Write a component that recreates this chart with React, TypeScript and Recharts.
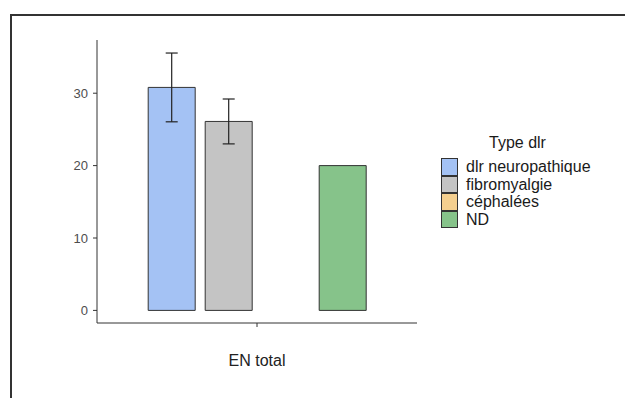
import { BarChart, Bar, XAxis, YAxis, ErrorBar } from 'recharts'

const categories = ['EN total']
const seriesNames = ['dlr neuropathique', 'fibromyalgie', 'céphalées', 'ND']
const seriesKeys = ['neuro', 'fibro', 'ceph', 'nd']
const seriesColors = ['#a4c2f4', '#c4c4c4', '#f4cf8f', '#86c38a']
const means = [30.8, 26.1, null, 20.0]
const errors = [4.75, 3.1, null, null]
const yTicks = [0, 10, 20, 30]

const data = categories.map((cat) => {
  const row: Record<string, any> = { cat }
  seriesKeys.forEach((k, i) => {
    row[k] = means[i]
    row[k + 'Err'] = errors[i]
  })
  return row
})

const font = '"Liberation Sans", Arial, sans-serif'

function LegendBox() {
  return (
    <div style={{ position: 'absolute', left: 441, top: 133, fontFamily: font, color: '#1a1a1a' }}>
      <div style={{ fontSize: 16, lineHeight: '20px', marginLeft: 48, marginBottom: 5 }}>Type dlr</div>
      {seriesNames.map((name, i) => (
        <div key={name} style={{ display: 'flex', alignItems: 'center', height: 17.5 }}>
          <div
            style={{
              width: 15,
              height: 15.5,
              background: seriesColors[i],
              border: '1px solid #333',
              boxSizing: 'content-box',
            }}
          />
          <span style={{ fontSize: 16, marginLeft: 8, lineHeight: '17px' }}>{name}</span>
        </div>
      ))}
    </div>
  )
}

export default function App() {
  return (
    <div style={{ position: 'absolute', left: 0, top: 0, width: 625, height: 398, background: '#fff', overflow: 'hidden' }}>
      <div
        style={{
          position: 'absolute',
          left: 10,
          top: 14,
          width: 620,
          height: 400,
          borderTop: '2px solid #333',
          borderLeft: '2px solid #333',
        }}
      />
      <BarChart
        width={625}
        height={398}
        data={data}
        margin={{ top: 40, right: 208, bottom: 35, left: 57 }}
        barGap={10}
        barCategoryGap="16%"
        style={{ position: 'absolute', left: 0, top: 0 }}
      >
        <XAxis
          dataKey="cat"
          height={40}
          stroke="#333"
          tickSize={4}
          tickMargin={28}
          tick={{ fill: '#222', fontSize: 16, fontFamily: font }}
        />
        <YAxis
          width={40}
          domain={[-1.74, 37.35]}
          allowDataOverflow
          ticks={yTicks}
          stroke="#333"
          tickSize={4}
          tickMargin={5}
          tick={{ fill: '#4d4d4d', fontSize: 13, fontFamily: font }}
        />
        {seriesKeys.map((k, i) => (
          <Bar
            key={k}
            dataKey={k}
            name={seriesNames[i]}
            fill={seriesColors[i]}
            stroke="#333"
            strokeWidth={1}
            isAnimationActive={false}
          >
            {errors[i] != null && (
              <ErrorBar dataKey={k + 'Err'} width={6} stroke="#222" strokeWidth={1.2} direction="y" />
            )}
          </Bar>
        ))}
      </BarChart>
      <LegendBox />
    </div>
  )
}
